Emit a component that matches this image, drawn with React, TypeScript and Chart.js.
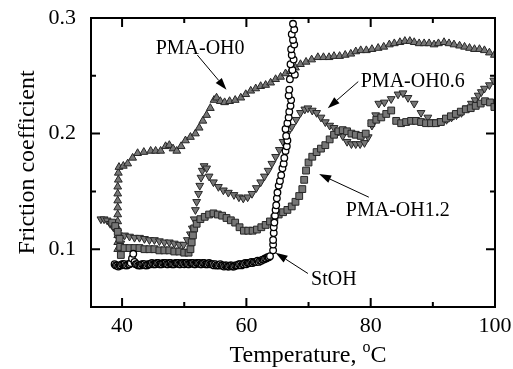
import React, { useEffect, useRef } from "react";
import { Chart, registerables } from "chart.js";

Chart.register(...registerables);

const FONT = "'Liberation Serif', 'Times New Roman', Times, serif";

// Axis ticks
const xTicks = [40, 60, 80, 100];
const xMinorTicks = [50, 70, 90];
const yTicks = [0.1, 0.2, 0.3];
const yMinorTicks = [0.15, 0.25];

// PMA-OH0
const oh0Temp = [39.3, 39.3, 39.3, 39.3, 39.3, 39.3, 39.3, 39.3, 39.3, 39.3, 39.4, 39.4, 39.5,
  40.2, 40.9, 41.7, 42.5, 43.5, 44.6, 45.4, 46.2, 47.0, 47.6, 48.2, 48.8, 49.5, 50.2, 51.0, 51.8, 52.4, 53.0,
  53.6, 54.2, 54.8, 55.2, 55.8, 56.5, 57.3, 58.2, 59.1, 59.9, 60.7, 61.5, 62.3, 63.1, 63.9, 64.7, 65.5, 66.3,
  67.1, 67.9, 68.7, 69.6, 70.5, 71.5, 72.4, 73.3, 74.1, 75.0, 75.9, 76.8, 77.6, 78.4, 79.3, 80.2, 81.2, 82.1,
  83.0, 83.8, 84.7, 85.5, 86.3, 87.0, 87.8, 88.6, 89.4, 90.2, 90.9, 91.8, 92.6, 93.4, 94.3, 95.1, 95.9, 96.7,
  97.5, 98.3, 99.1, 99.9];
const oh0Mu = [0.100, 0.106, 0.112, 0.118, 0.124, 0.130, 0.136, 0.142, 0.148, 0.154, 0.160, 0.166, 0.171,
  0.172, 0.174, 0.179, 0.183, 0.184, 0.185, 0.185, 0.185, 0.189, 0.190, 0.187, 0.185, 0.189, 0.194, 0.197,
  0.200, 0.205, 0.211, 0.216, 0.222, 0.229, 0.231, 0.228, 0.227, 0.228, 0.229, 0.231, 0.234, 0.237, 0.239,
  0.241, 0.242, 0.244, 0.247, 0.249, 0.252, 0.254, 0.257, 0.260, 0.262, 0.264, 0.266, 0.266, 0.266, 0.267,
  0.267, 0.268, 0.269, 0.271, 0.272, 0.272, 0.273, 0.274, 0.275, 0.277, 0.278, 0.279, 0.280, 0.280, 0.279,
  0.278, 0.278, 0.278, 0.277, 0.278, 0.279, 0.278, 0.277, 0.276, 0.275, 0.274, 0.273, 0.273, 0.272, 0.270,
  0.268];

// PMA-OH0.6
const oh06Temp = [36.6, 37.1, 37.6, 38.1, 38.6, 39.1, 39.5, 39.6, 39.8, 40.4, 41.2, 42.0, 42.8, 43.6, 44.4,
  45.2, 46.0, 46.8, 47.6, 48.4, 49.2, 49.9, 50.5, 51.0, 51.3, 51.6, 51.8, 52.0, 52.3, 52.5, 52.7, 52.9, 53.2,
  53.6, 54.0, 54.7, 55.5, 56.3, 57.1, 58.0, 58.8, 59.5, 60.2, 60.9, 61.6, 62.3, 62.9, 63.5, 64.1, 64.7, 65.3,
  65.9, 66.6, 67.3, 68.0, 68.7, 69.4, 69.9, 70.6, 71.3, 72.0, 72.7, 73.4, 74.1, 74.8, 75.5, 76.2, 76.9, 77.6,
  78.3, 79.0, 79.6, 80.2, 80.8, 81.3, 82.2, 83.3, 84.4, 85.2, 86.0, 87.0, 88.1, 89.2, 90.2, 91.3, 92.2, 93.0,
  93.8, 94.6, 95.4, 96.2, 96.8, 97.3, 97.8, 98.3, 99.1, 99.8];
const oh06Mu = [0.126, 0.126, 0.125, 0.122, 0.119, 0.116, 0.112, 0.108, 0.105, 0.112, 0.111, 0.110, 0.110,
  0.109, 0.108, 0.108, 0.107, 0.106, 0.106, 0.105, 0.104, 0.104, 0.108, 0.113, 0.118, 0.126, 0.134, 0.141,
  0.148, 0.155, 0.162, 0.168, 0.172, 0.170, 0.163, 0.158, 0.154, 0.151, 0.149, 0.147, 0.145, 0.144, 0.145,
  0.148, 0.153, 0.158, 0.163, 0.168, 0.174, 0.180, 0.186, 0.193, 0.200, 0.206, 0.212, 0.218, 0.221, 0.222,
  0.220, 0.218, 0.214, 0.210, 0.207, 0.205, 0.202, 0.198, 0.193, 0.191, 0.191, 0.191, 0.192, 0.197, 0.207,
  0.216, 0.226, 0.227, 0.230, 0.234, 0.235, 0.231, 0.226, 0.218, 0.214, 0.210, 0.211, 0.212, 0.214, 0.216,
  0.218, 0.222, 0.226, 0.229, 0.233, 0.236, 0.239, 0.242, 0.246];

// PMA-OH1.2
const oh12Temp = [38.4, 38.9, 39.3, 39.6, 39.7, 39.8, 40.4, 41.2, 42.0, 42.8, 43.6, 44.4, 45.2, 46.0, 46.8,
  47.6, 48.4, 49.2, 50.0, 50.7, 51.0, 51.2, 51.4, 51.6, 52.0, 52.6, 53.3, 54.0, 54.7, 55.4, 56.1, 56.8, 57.5,
  58.2, 58.9, 59.6, 60.3, 61.0, 61.7, 62.4, 63.1, 63.8, 64.5, 65.2, 65.9, 66.6, 67.3, 67.9, 68.5, 69.0, 69.3,
  69.6, 70.0, 70.6, 71.3, 72.0, 72.7, 73.4, 74.1, 74.8, 75.5, 76.2, 76.9, 77.6, 78.4, 79.2, 80.1, 80.9, 81.7,
  82.5, 83.3, 84.1, 84.9, 85.7, 86.5, 87.3, 88.1, 88.9, 89.7, 90.5, 91.3, 92.1, 92.9, 93.7, 94.5, 95.3, 96.1,
  96.9, 97.7, 98.4, 99.2, 99.9];
const oh12Mu = [0.123, 0.120, 0.115, 0.109, 0.102, 0.095, 0.101, 0.101, 0.101, 0.101, 0.100, 0.100, 0.100,
  0.099, 0.099, 0.099, 0.098, 0.098, 0.097, 0.097, 0.100, 0.106, 0.112, 0.118, 0.122, 0.126, 0.128, 0.130,
  0.131, 0.130, 0.129, 0.127, 0.125, 0.123, 0.119, 0.116, 0.116, 0.116, 0.117, 0.119, 0.121, 0.124, 0.127,
  0.130, 0.132, 0.134, 0.137, 0.141, 0.146, 0.152, 0.160, 0.168, 0.175, 0.180, 0.184, 0.187, 0.190, 0.195,
  0.199, 0.202, 0.203, 0.202, 0.200, 0.199, 0.198, 0.200, 0.209, 0.212, 0.214, 0.217, 0.220, 0.211, 0.209,
  0.210, 0.211, 0.211, 0.210, 0.209, 0.209, 0.209, 0.210, 0.213, 0.215, 0.217, 0.219, 0.221, 0.222, 0.224,
  0.226, 0.228, 0.227, 0.223];

// StOH: flat low-friction run, then the jump above the melting point
const stohTemp = [
  38.8, 39.0, 39.2, 39.4, 39.6, 39.8, 40.0,
  40.2, 40.4, 40.6, 40.8, 41.0, 41.2, 41.4,
  41.6, 41.8, 42.0,
  42.2, 42.4, 42.6, 42.8, 43.0, 43.2, 43.4, 43.6, 43.8, 44.0, 44.2, 44.4, 44.6, 44.8, 45.0,
  45.2, 45.4, 45.6, 45.8, 46.0, 46.2, 46.4, 46.6, 46.8, 47.0, 47.2, 47.4, 47.6, 47.8, 48.0, 48.2, 48.4, 48.6,
  48.8, 49.0, 49.2, 49.4, 49.6, 49.8, 50.0,
  50.2, 50.4, 50.6, 50.8, 51.0, 51.2, 51.4, 51.6, 51.8, 52.0, 52.2, 52.4, 52.6, 52.8, 53.0, 53.2, 53.4, 53.6,
  53.8, 54.0, 54.2, 54.4, 54.6, 54.8, 55.0,
  55.2, 55.4, 55.6, 55.8, 56.0, 56.2, 56.4, 56.6, 56.8, 57.0, 57.2, 57.4, 57.6, 57.8, 58.0, 58.2, 58.4, 58.6,
  58.8, 59.0, 59.2, 59.4, 59.6, 59.8, 60.0,
  60.2, 60.4, 60.6, 60.8, 61.0, 61.2, 61.4, 61.6, 61.8, 62.0, 62.2, 62.4, 62.6, 62.8, 63.0, 63.2, 63.4, 63.6,
  63.8,
  64.3, 64.3, 64.3, 64.4, 64.4, 64.5, 64.6, 64.7, 64.8, 64.9, 65.0, 65.2, 65.4, 65.6, 65.8, 66.0, 66.1, 66.3,
  66.5, 66.6, 66.4, 66.3, 66.6, 66.8, 66.9, 67.1, 67.2, 66.8, 66.9, 67.0, 67.8, 67.4, 67.1, 67.6, 67.3, 67.2,
  67.7, 67.5, 67.3, 67.7, 67.5];
const stohMu = [
  0.087, 0.086, 0.086, 0.085, 0.086, 0.086, 0.087,
  0.087, 0.087, 0.086, 0.086, 0.087, 0.087, 0.088,
  0.092, 0.096, 0.089,
  0.087, 0.087, 0.086, 0.086, 0.086, 0.087, 0.087, 0.087, 0.086, 0.086, 0.087, 0.087, 0.087, 0.088, 0.087,
  0.087, 0.087, 0.088, 0.088, 0.087, 0.087, 0.087, 0.088, 0.088, 0.088, 0.087, 0.087, 0.088, 0.088, 0.087,
  0.087, 0.087, 0.088, 0.088, 0.088, 0.087, 0.087, 0.088, 0.088, 0.087,
  0.088, 0.088, 0.087, 0.087, 0.088, 0.088, 0.088, 0.087, 0.087, 0.088, 0.088, 0.088, 0.087, 0.087, 0.088,
  0.088, 0.087, 0.087, 0.087, 0.088, 0.087, 0.087, 0.087, 0.086, 0.087,
  0.086, 0.086, 0.086, 0.087, 0.086, 0.086, 0.085, 0.086, 0.086, 0.085, 0.085, 0.086, 0.086, 0.085, 0.085,
  0.086, 0.086, 0.086, 0.087, 0.087, 0.086, 0.087, 0.087, 0.088, 0.087,
  0.088, 0.088, 0.088, 0.089, 0.088, 0.089, 0.089, 0.089, 0.090, 0.089, 0.090, 0.090, 0.091, 0.091, 0.092,
  0.092, 0.093, 0.093, 0.094,
  0.099, 0.104, 0.108, 0.114, 0.119, 0.123, 0.129, 0.134, 0.138, 0.144, 0.149, 0.155, 0.159, 0.164, 0.170,
  0.174, 0.179, 0.185, 0.189, 0.194, 0.198, 0.204, 0.209, 0.214, 0.219, 0.224, 0.229, 0.233, 0.238, 0.247,
  0.251, 0.255, 0.260, 0.264, 0.268, 0.273, 0.277, 0.281, 0.286, 0.290, 0.295];

// Curve labels with leader arrows (data coordinates)
const curveLabels = [
  { text: "PMA-OH0", tx: 45.4, ty: 0.269, fromX: 52.1, fromY: 0.268, toX: 56.8, toY: 0.238 },
  { text: "PMA-OH0.6", tx: 78.4, ty: 0.24, fromX: 78.0, fromY: 0.245, toX: 73.1, toY: 0.222 },
  { text: "PMA-OH1.2", tx: 76.0, ty: 0.129, fromX: 79.7, fromY: 0.145, toX: 71.7, toY: 0.165 },
  { text: "StOH", tx: 70.4, ty: 0.069, fromX: 69.9, fromY: 0.079, toX: 64.7, toY: 0.097 },
];

function toPoints(xs: number[], ys: number[]) {
  const n = Math.min(xs.length, ys.length);
  const out: { x: number; y: number }[] = [];
  for (let i = 0; i < n; i++) out.push({ x: xs[i], y: ys[i] });
  return out;
}

function drawArrow(ctx: CanvasRenderingContext2D, x0: number, y0: number, x1: number, y1: number) {
  const ang = Math.atan2(y1 - y0, x1 - x0);
  const len = 12;
  const half = 4;
  const bx = x1 - len * Math.cos(ang);
  const by = y1 - len * Math.sin(ang);
  ctx.beginPath();
  ctx.moveTo(x0, y0);
  ctx.lineTo(bx, by);
  ctx.stroke();
  ctx.beginPath();
  ctx.moveTo(x1, y1);
  ctx.lineTo(bx + half * Math.sin(ang), by - half * Math.cos(ang));
  ctx.lineTo(bx - half * Math.sin(ang), by + half * Math.cos(ang));
  ctx.closePath();
  ctx.fill();
}

const framePlugin = {
  id: "frameAndLabels",
  afterDraw(chart: any) {
    const { ctx, chartArea: a, scales } = chart;
    const xs = scales.x;
    const ys = scales.y;
    ctx.save();
    ctx.strokeStyle = "#000";
    ctx.fillStyle = "#000";

    // frame
    ctx.lineWidth = 2;
    ctx.strokeRect(a.left, a.top, a.right - a.left, a.bottom - a.top);

    // inward ticks on all four sides
    const major = 9;
    const minor = 5;
    const tickX = (v: number, len: number) => {
      const p = xs.getPixelForValue(v);
      ctx.beginPath();
      ctx.moveTo(p, a.bottom);
      ctx.lineTo(p, a.bottom - len);
      ctx.moveTo(p, a.top);
      ctx.lineTo(p, a.top + len);
      ctx.stroke();
    };
    const tickY = (v: number, len: number) => {
      const p = ys.getPixelForValue(v);
      ctx.beginPath();
      ctx.moveTo(a.left, p);
      ctx.lineTo(a.left + len, p);
      ctx.moveTo(a.right, p);
      ctx.lineTo(a.right - len, p);
      ctx.stroke();
    };
    xTicks.forEach((v) => tickX(v, major));
    xMinorTicks.forEach((v) => tickX(v, minor));
    yTicks.forEach((v) => tickY(v, major));
    yMinorTicks.forEach((v) => tickY(v, minor));

    // tick labels
    ctx.font = `22px ${FONT}`;
    ctx.textBaseline = "middle";
    ctx.textAlign = "center";
    xTicks.forEach((v) => ctx.fillText(String(v), xs.getPixelForValue(v), a.bottom + 19));
    ctx.textAlign = "right";
    yTicks.forEach((v) => ctx.fillText(v.toFixed(1), a.left - 15, ys.getPixelForValue(v)));

    // curve labels and arrows
    ctx.lineWidth = 1;
    ctx.font = `20px ${FONT}`;
    ctx.textAlign = "left";
    ctx.textBaseline = "alphabetic";
    curveLabels.forEach((l) => {
      ctx.fillText(l.text, xs.getPixelForValue(l.tx), ys.getPixelForValue(l.ty));
      drawArrow(
        ctx,
        xs.getPixelForValue(l.fromX),
        ys.getPixelForValue(l.fromY),
        xs.getPixelForValue(l.toX),
        ys.getPixelForValue(l.toY)
      );
    });

    // x-axis title with superscript degree "o"
    const main = "Temperature, ";
    ctx.font = `24px ${FONT}`;
    const wMain = ctx.measureText(main).width;
    const wC = ctx.measureText("C").width;
    ctx.font = `16px ${FONT}`;
    const wO = ctx.measureText("o").width;
    const total = wMain + wO + wC;
    const cx = (a.left + a.right) / 2 + 15;
    const base = a.bottom + 55;
    const x0 = cx - total / 2;
    ctx.font = `24px ${FONT}`;
    ctx.fillText(main, x0, base);
    ctx.font = `16px ${FONT}`;
    ctx.fillText("o", x0 + wMain, base - 10);
    ctx.font = `24px ${FONT}`;
    ctx.fillText("C", x0 + wMain + wO, base);

    // y-axis title
    ctx.save();
    ctx.translate(28, (a.top + a.bottom) / 2);
    ctx.rotate(-Math.PI / 2);
    ctx.textAlign = "center";
    ctx.textBaseline = "middle";
    ctx.font = `24px ${FONT}`;
    ctx.fillText("Friction coefficient", 0, 0);
    ctx.restore();

    ctx.restore();
  },
};

export default function App() {
  const ref = useRef<HTMLCanvasElement | null>(null);

  useEffect(() => {
    document.body.style.margin = "0";
    const canvas = ref.current;
    if (!canvas) return;

    const gray = "#767676";
    const edge = "#262626";

    const chart = new Chart(canvas, {
      type: "scatter",
      data: {
        datasets: [
          {
            label: "StOH",
            data: toPoints(stohTemp, stohMu),
            pointStyle: "circle",
            pointRadius: 3.3,
            backgroundColor: "#ffffff",
            borderColor: "#000000",
            borderWidth: 1.3,
            order: 1,
          },
          {
            label: "PMA-OH1.2",
            data: toPoints(oh12Temp, oh12Mu),
            pointStyle: "rect",
            pointRadius: 4.8,
            backgroundColor: gray,
            borderColor: edge,
            borderWidth: 1,
            order: 2,
          },
          {
            label: "PMA-OH0.6",
            data: toPoints(oh06Temp, oh06Mu),
            pointStyle: "triangle",
            pointRotation: 180,
            pointRadius: 4.5,
            backgroundColor: gray,
            borderColor: edge,
            borderWidth: 1,
            order: 3,
          },
          {
            label: "PMA-OH0",
            data: toPoints(oh0Temp, oh0Mu),
            pointStyle: "triangle",
            pointRadius: 4.5,
            backgroundColor: gray,
            borderColor: edge,
            borderWidth: 1,
            order: 4,
          },
        ],
      } as any,
      options: {
        responsive: false,
        animation: false,
        devicePixelRatio: 1,
        layout: { padding: { top: 18, right: 18, left: 0, bottom: 0 } },
        plugins: {
          legend: { display: false },
          tooltip: { enabled: false },
        },
        scales: {
          x: {
            type: "linear",
            min: 35,
            max: 100,
            grid: { display: false, drawTicks: false },
            border: { display: false },
            ticks: { display: false },
            afterBuildTicks: (s: any) => {
              s.ticks = xTicks.map((v) => ({ value: v }));
            },
            afterFit: (s: any) => {
              s.height = 62;
              s.paddingLeft = 0;
              s.paddingRight = 0;
            },
          },
          y: {
            type: "linear",
            min: 0.05,
            max: 0.3,
            grid: { display: false, drawTicks: false },
            border: { display: false },
            ticks: { display: false },
            afterBuildTicks: (s: any) => {
              s.ticks = yTicks.map((v) => ({ value: v }));
            },
            afterFit: (s: any) => {
              s.width = 91;
            },
          },
        },
      } as any,
      plugins: [framePlugin],
    });

    return () => chart.destroy();
  }, []);

  return (
    <div style={{ width: 513, height: 369 }}>
      <canvas ref={ref} width={513} height={369} style={{ display: "block" }} />
    </div>
  );
}
